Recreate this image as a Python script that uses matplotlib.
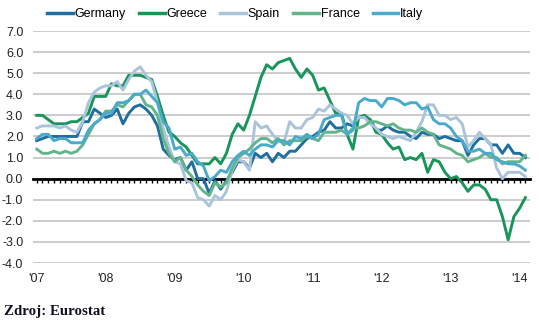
import numpy as np
import matplotlib
matplotlib.use("Agg")
import matplotlib.pyplot as plt
from matplotlib.lines import Line2D

plt.rcParams['font.family'] = ['Liberation Sans', 'DejaVu Sans']

year_labels = ["'07", "'08", "'09", "'10", "'11", "'12", "'13", "'14"]
series_names = ["Germany", "Greece", "Spain", "France", "Italy"]

germany = [1.8, 1.9, 2.0, 2.0, 2.0, 2.0, 2.0, 2.0, 2.7, 2.7, 3.3, 3.1,
           2.9, 3.0, 3.3, 2.6, 3.1, 3.4, 3.5, 3.3, 3.0, 2.5, 1.4, 1.1,
           0.9, 1.0, 0.4, 0.8, 0.0, 0.0, -0.7, -0.1, -0.5, -0.1, 0.3, 0.8,
           0.8, 0.5, 1.2, 1.0, 1.2, 0.8, 1.2, 1.0, 1.3, 1.3, 1.6, 1.9,
           2.0, 2.2, 2.3, 2.7, 2.4, 2.4, 2.6, 2.5, 2.9, 2.9, 2.8, 2.3,
           2.3, 2.5, 2.3, 2.2, 2.2, 2.0, 1.9, 2.2, 2.1, 2.1, 1.9, 2.0,
           1.9, 1.8, 1.8, 1.1, 1.6, 1.9, 1.9, 1.6, 1.6, 1.2, 1.6, 1.2,
           1.2, 1.0]
greece = [3.0, 3.0, 2.8, 2.6, 2.6, 2.6, 2.7, 2.7, 2.9, 3.1, 3.9, 3.9,
          3.9, 4.5, 4.4, 4.4, 4.9, 4.9, 4.9, 4.8, 4.7, 3.9, 3.0, 2.2,
          2.0, 1.7, 1.5, 1.1, 0.7, 0.7, 0.7, 1.0, 0.7, 1.2, 2.1, 2.6,
          2.3, 3.0, 3.9, 4.8, 5.4, 5.2, 5.5, 5.6, 5.7, 5.2, 4.8, 5.2,
          4.9, 4.2, 4.3, 3.7, 3.1, 3.1, 2.1, 1.4, 2.9, 3.0, 2.8, 2.2,
          2.1, 1.7, 1.4, 1.5, 0.9, 1.0, 0.9, 1.2, 0.3, 0.9, 0.8, 0.3,
          0.0, 0.1, -0.2, -0.6, -0.3, -0.3, -0.5, -1.0, -1.0, -1.8, -2.9, -1.8,
          -1.4, -0.9]
spain = [2.4, 2.5, 2.5, 2.5, 2.4, 2.5, 2.3, 2.2, 2.7, 3.6, 4.1, 4.3,
         4.4, 4.4, 4.6, 4.2, 4.7, 5.1, 5.3, 4.9, 4.6, 3.6, 2.4, 1.5,
         0.8, 0.7, -0.1, -0.2, -0.9, -1.0, -1.3, -0.8, -1.0, -0.6, 0.4, 0.9,
         0.8, 0.4, 2.7, 2.4, 2.5, 2.1, 1.8, 1.7, 2.7, 2.4, 2.4, 2.8,
         2.9, 3.3, 3.2, 3.5, 3.3, 3.1, 3.0, 2.6, 2.9, 2.9, 2.6, 2.4,
         2.1, 2.0, 1.9, 2.0, 1.9, 1.8, 2.2, 2.7, 3.5, 3.5, 3.0, 3.0,
         2.8, 2.9, 2.6, 1.5, 1.8, 2.2, 1.9, 1.6, 0.5, 0.0, 0.3, 0.3,
         0.3, 0.1]
france = [1.4, 1.2, 1.2, 1.3, 1.2, 1.3, 1.2, 1.3, 1.6, 2.1, 2.6, 2.8,
          3.2, 3.2, 3.5, 3.4, 3.7, 4.0, 4.0, 3.5, 3.4, 3.0, 1.9, 1.2,
          0.8, 1.0, 0.4, 0.1, -0.3, -0.6, -0.8, -0.2, -0.4, -0.2, 0.5, 1.0,
          1.2, 1.4, 1.7, 1.9, 1.9, 1.7, 1.9, 1.6, 1.8, 1.8, 1.8, 2.0,
          1.9, 1.8, 2.2, 2.2, 2.2, 2.3, 2.1, 2.4, 2.4, 2.5, 2.7, 2.7,
          2.6, 2.5, 2.6, 2.4, 2.3, 2.3, 2.2, 2.4, 2.2, 2.1, 1.6, 1.5,
          1.4, 1.2, 1.1, 0.8, 0.9, 1.0, 1.2, 1.0, 1.0, 0.7, 0.8, 0.8,
          0.8, 1.1]
italy = [1.9, 2.1, 2.1, 1.8, 1.9, 1.9, 1.7, 1.7, 1.7, 2.3, 2.6, 2.8,
         3.1, 3.1, 3.6, 3.6, 3.7, 4.0, 4.0, 4.2, 3.9, 3.6, 2.7, 2.4,
         1.4, 1.5, 1.1, 1.2, 0.8, 0.6, -0.1, 0.1, 0.4, 0.3, 0.8, 1.1,
         1.3, 1.1, 1.4, 1.6, 1.6, 1.5, 1.8, 1.8, 1.6, 2.0, 1.9, 2.1,
         1.9, 2.1, 2.8, 2.9, 3.0, 3.0, 2.1, 2.3, 3.6, 3.8, 3.7, 3.7,
         3.4, 3.8, 3.8, 3.7, 3.5, 3.6, 3.6, 3.3, 3.4, 2.8, 2.6, 2.6,
         2.4, 2.0, 1.8, 1.3, 1.3, 1.4, 1.2, 1.2, 0.9, 0.8, 0.7, 0.7,
         0.6, 0.4]

colors = ["#1f6e9e", "#17955a", "#aac4dc", "#62b48c", "#4aaacb"]
data = [germany, greece, spain, france, italy]

W, H = 539, 328
fig = plt.figure(figsize=(W / 100, H / 100), dpi=100)
ax = fig.add_axes([33 / W, (H - 263) / H, (530 - 33) / W, (263 - 31) / H])

months = np.arange(len(germany))
for name, vals, c in zip(series_names, data, colors):
    ax.plot(months, vals, color=c, lw=2.1, label=name, zorder=3)

ax.set_xlim(-0.65, 85.8)
ax.set_ylim(-4, 7)
ax.set_yticks(np.arange(-4, 8))
ax.set_yticklabels([f"{v:.1f}" for v in np.arange(-4, 8)])
ax.yaxis.grid(True, color="#c8c8c8", lw=1.3)
ax.set_axisbelow(True)
ax.tick_params(axis='y', length=0, pad=7, labelsize=9, labelcolor="#222222")

for s in ['top', 'left', 'right']:
    ax.spines[s].set_visible(False)
ax.spines['bottom'].set_position(('data', 0))
ax.spines['bottom'].set_color('black')
ax.spines['bottom'].set_linewidth(2)
ax.spines['bottom'].set_zorder(2.5)
ax.set_xticks(months)
ax.tick_params(axis='x', length=3, width=1, direction='out', color='black',
               labelbottom=False)

sec = ax.secondary_xaxis('bottom')
sec.set_xticks(np.arange(0, 85, 12))
sec.set_xticklabels(year_labels)
sec.tick_params(length=0, pad=7, labelsize=9, labelcolor="#222222")
sec.spines['bottom'].set_visible(False)

handles = [Line2D([], [], color=c, lw=2.5) for c in colors]
fig.legend(handles, series_names, loc='center left',
           bbox_to_anchor=(47 / W, 1 - 14 / H), ncol=5, frameon=False,
           fontsize=9, handlelength=2.05, handletextpad=0.15,
           columnspacing=1.05, borderpad=0, borderaxespad=0)

fig.text(4 / W, 1 - 311 / H, "Zdroj: Eurostat", family='Liberation Serif',
         fontweight='bold', fontsize=10.7, color="#111122", va='center',
         ha='left')

fig.savefig("out.png", dpi=100)
